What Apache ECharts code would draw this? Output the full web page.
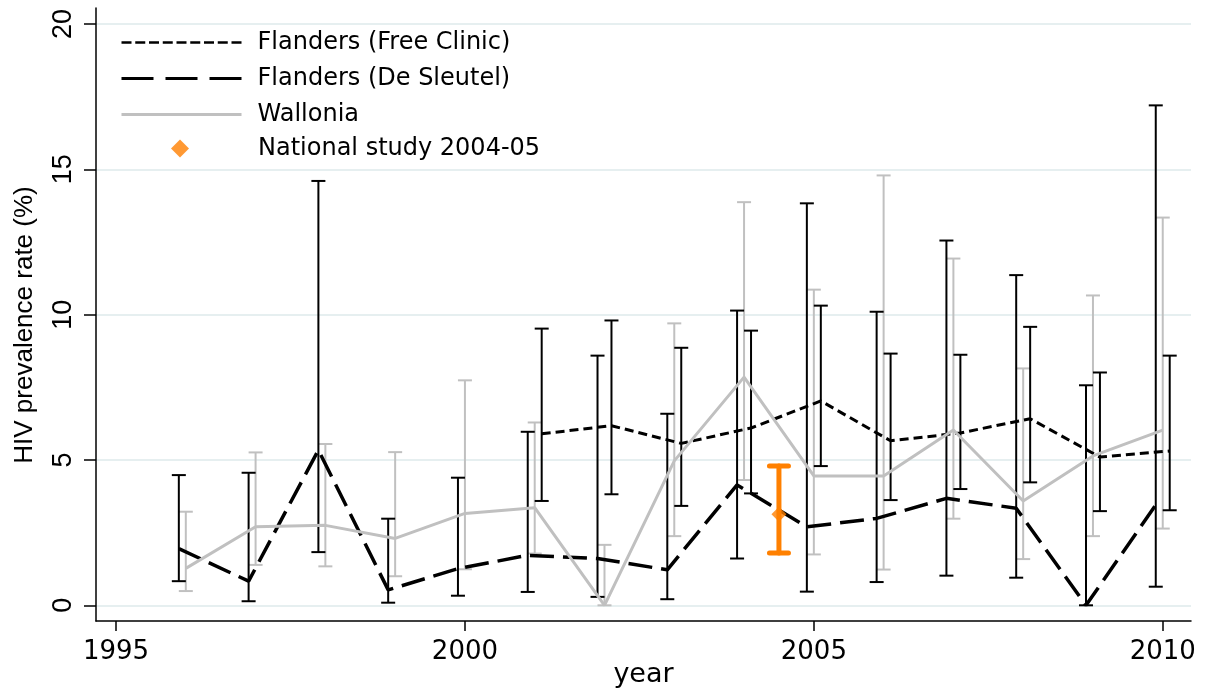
<!DOCTYPE html>
<html>
<head>
<meta charset="utf-8">
<script src="https://cdn.jsdelivr.net/npm/echarts@6/dist/echarts.min.js"></script>
<style>
  html, body { margin: 0; padding: 0; background: #ffffff; }
  #chart { width: 1206px; height: 689px; }
</style>
</head>
<body>
<div id="chart"></div>
<script>
// HIV prevalence among people who inject drugs, by region and data source
const yearsDeSleutel = [1996, 1997, 1998, 1999, 2000, 2001, 2002, 2003, 2004, 2005, 2006, 2007, 2008, 2009, 2010];
const deSleutelRate  = [1.95, 0.83, 5.34, 0.53, 1.26, 1.72, 1.61, 1.22, 4.14, 2.70, 2.99, 3.68, 3.34, 0.00, 3.45];
const deSleutelLow   = [0.83, 0.14, 1.83, 0.09, 0.33, 0.46, 0.29, 0.21, 1.61, 0.47, 0.80, 1.02, 0.95, 0.00, 0.64];
const deSleutelHigh  = [4.48, 4.56, 14.60, 2.98, 4.39, 5.97, 8.59, 6.59, 10.14, 13.83, 10.10, 12.55, 11.36, 7.57, 17.20];

const yearsWallonia  = [1996, 1997, 1998, 1999, 2000, 2001, 2002, 2003, 2004, 2005, 2006, 2007, 2008, 2009, 2010];
const walloniaRate   = [1.27, 2.70, 2.75, 2.30, 3.16, 3.36, 0.00, 4.97, 7.85, 4.45, 4.45, 6.03, 3.59, 5.14, 6.03];
const walloniaLow    = [0.49, 1.39, 1.34, 1.00, 1.24, 1.78, 0.00, 2.38, 4.31, 1.75, 1.23, 2.98, 1.59, 2.38, 2.64];
const walloniaHigh   = [3.22, 5.26, 5.55, 5.27, 7.74, 6.29, 2.08, 9.70, 13.87, 10.86, 14.79, 11.93, 8.15, 10.66, 13.34];

const yearsFreeClinic = [2001, 2002, 2003, 2004, 2005, 2006, 2007, 2008, 2009, 2010];
const freeClinicRate  = [5.90, 6.18, 5.57, 6.10, 7.03, 5.66, 5.93, 6.42, 5.10, 5.31];
const freeClinicLow   = [3.59, 3.82, 3.42, 3.85, 4.79, 3.62, 4.00, 4.23, 3.24, 3.27];
const freeClinicHigh  = [9.52, 9.80, 8.86, 9.45, 10.31, 8.66, 8.62, 9.58, 8.01, 8.59];

const yearsNational = [2004.5];
const nationalRate  = [3.13];
const nationalLow   = [1.80];
const nationalHigh  = [4.79];

const yTickValues = [0, 5, 10, 15, 20];
const xTickValues = [1995, 2000, 2005, 2010];

const NAME_FC = 'Flanders (Free Clinic)';
const NAME_DS = 'Flanders (De Sleutel)';
const NAME_WA = 'Wallonia';
const NAME_NS = 'National study 2004-05';

// sources measured in the same year are dodged sideways a little
const DODGE = 0.1;
const points = (years, vals, shift) => years.map((y, i) => [y + shift, vals[i]]);
const ranges = (years, lo, hi, shift) => years.map((y, i) => [y + shift, lo[i], hi[i]]);

function errorBars(data, color, width, capWidth, cap, z) {
  return {
    type: 'custom',
    silent: true,
    z: z,
    encode: { x: 0, y: [1, 2] },
    data: data,
    renderItem: function (params, api) {
      const x = api.value(0);
      const top = api.coord([x, api.value(2)]);
      const bot = api.coord([x, api.value(1)]);
      const h = capWidth / 2;
      const style = { stroke: color, lineWidth: width, lineCap: cap, fill: null };
      return {
        type: 'group',
        children: [
          { type: 'line', shape: { x1: top[0], y1: top[1], x2: bot[0], y2: bot[1] }, style: style },
          { type: 'line', shape: { x1: top[0] - h, y1: top[1], x2: top[0] + h, y2: top[1] }, style: style },
          { type: 'line', shape: { x1: bot[0] - h, y1: bot[1], x2: bot[0] + h, y2: bot[1] }, style: style }
        ]
      };
    }
  };
}

const GRAY = '#c0c0c0';
const ORANGE = '#ff8000';
const legendFont = 'DejaVu Sans';
// line legend keys show only the stroke, no point marker
const noMarker = { color: 'rgba(0,0,0,0)', borderColor: 'rgba(0,0,0,0)', borderWidth: 0, opacity: 0 };

const chart = echarts.init(document.getElementById('chart'), null, { renderer: 'canvas' });

chart.setOption({
  animation: false,
  backgroundColor: '#ffffff',
  grid: { left: 96, right: 15, top: 8, bottom: 68, outerBoundsMode: 'none' },
  legend: [
    {
      orient: 'vertical',
      left: 120,
      top: 25,
      padding: 0,
      itemGap: 1,
      itemWidth: 120,
      itemHeight: 35,
      selectedMode: false,
      data: [
        { name: NAME_FC, lineStyle: { type: [10, 3.75], width: 2.5 }, itemStyle: noMarker },
        { name: NAME_DS, lineStyle: { type: [32, 12], width: 3 }, itemStyle: noMarker },
        { name: NAME_WA, lineStyle: { type: 'solid', width: 3 }, itemStyle: noMarker }
      ],
      formatter: name => '{s|}' + name,
      textStyle: {
        fontFamily: legendFont, fontSize: 24, color: '#000', lineHeight: 35,
        rich: { s: { width: 11 } }
      }
    },
    {
      orient: 'vertical',
      left: 171,
      top: 131,
      padding: 0,
      itemWidth: 18,
      itemHeight: 18,
      selectedMode: false,
      data: [{ name: NAME_NS, icon: 'diamond' }],
      formatter: name => '{s|}' + name,
      textStyle: {
        fontFamily: legendFont, fontSize: 24, color: '#000', lineHeight: 35,
        rich: { s: { width: 64 } }
      }
    }
  ],
  xAxis: {
    type: 'value',
    min: 1994.713,
    max: 2010.405,
    name: 'year',
    nameLocation: 'middle',
    nameGap: 40,
    nameMoveOverlap: false,
    nameTextStyle: { fontFamily: 'DejaVu Sans', fontSize: 27, color: '#000' },
    axisLine: { show: true, onZero: false, lineStyle: { color: '#000', width: 1.5 } },
    axisTick: { show: true, length: 10, customValues: xTickValues, lineStyle: { color: '#000', width: 1.5 } },
    axisLabel: {
      customValues: xTickValues,
      formatter: v => String(v),
      fontFamily: 'DejaVu Sans', fontSize: 26, color: '#000', margin: 18
    },
    splitLine: { show: false }
  },
  yAxis: {
    type: 'value',
    min: -0.54,
    max: 20.55,
    name: 'HIV prevalence rate (%)',
    nameLocation: 'middle',
    nameGap: 58,
    nameRotate: 90,
    nameMoveOverlap: false,
    nameTextStyle: { fontFamily: 'Liberation Sans', fontSize: 26, color: '#000', padding: [0, 21, 0, 0] },
    axisLine: { show: true, onZero: false, lineStyle: { color: '#000', width: 1.5 } },
    axisTick: { show: true, length: 12, customValues: yTickValues, lineStyle: { color: '#000', width: 1.5 } },
    axisLabel: {
      customValues: yTickValues,
      formatter: v => String(v),
      rotate: 90, fontFamily: 'Liberation Sans', fontSize: 27, color: '#000', margin: 19
    },
    splitLine: { show: true, lineStyle: { color: '#e6eff0', width: 2 } }
  },
  series: [
    errorBars(ranges(yearsWallonia, walloniaLow, walloniaHigh, 0), GRAY, 2, 14, 'butt', 2),
    errorBars(ranges(yearsDeSleutel, deSleutelLow, deSleutelHigh, -DODGE), '#000', 2, 14, 'butt', 2),
    errorBars(ranges(yearsFreeClinic, freeClinicLow, freeClinicHigh, DODGE), '#000', 2, 14, 'butt', 2),
    {
      name: NAME_FC,
      type: 'line',
      z: 3,
      symbol: 'none',
      silent: true,
      data: points(yearsFreeClinic, freeClinicRate, DODGE),
      itemStyle: { color: '#000' },
      lineStyle: { color: '#000', width: 3, type: [9, 5] }
    },
    {
      name: NAME_DS,
      type: 'line',
      z: 3,
      symbol: 'none',
      silent: true,
      data: points(yearsDeSleutel, deSleutelRate, -DODGE),
      itemStyle: { color: '#000' },
      lineStyle: { color: '#000', width: 3.5, type: [24, 9] }
    },
    {
      name: NAME_WA,
      type: 'line',
      z: 4,
      symbol: 'none',
      silent: true,
      data: points(yearsWallonia, walloniaRate, 0),
      itemStyle: { color: GRAY },
      lineStyle: { color: GRAY, width: 3, type: 'solid' }
    },
    errorBars(ranges(yearsNational, nationalLow, nationalHigh, 0), ORANGE, 5, 19, 'round', 5),
    {
      name: NAME_NS,
      type: 'scatter',
      z: 6,
      symbol: 'diamond',
      symbolSize: 15,
      silent: true,
      data: points(yearsNational, nationalRate, 0),
      itemStyle: { color: ORANGE }
    }
  ]
});
</script>
</body>
</html>
